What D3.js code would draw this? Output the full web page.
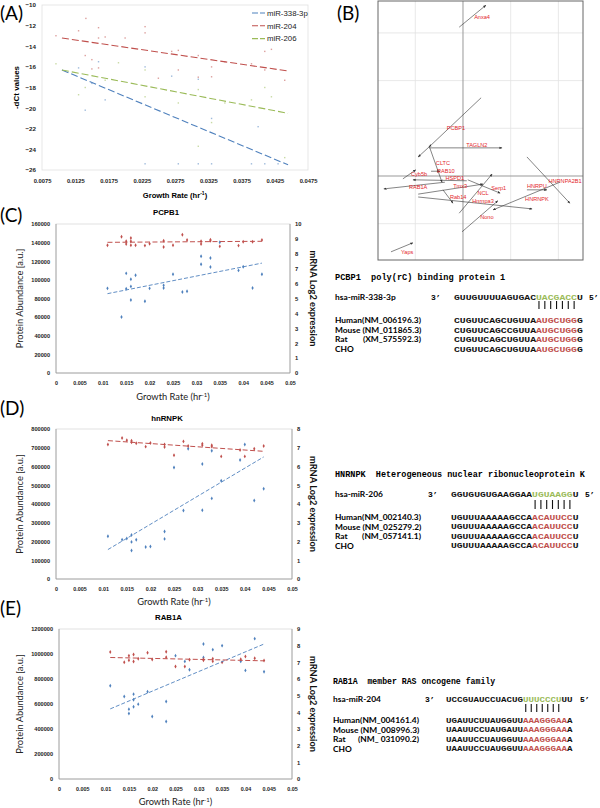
<!DOCTYPE html>
<html><head><meta charset="utf-8">
<script src="https://cdn.jsdelivr.net/npm/d3@7"></script>
<style>body{margin:0;background:#fff}svg{display:block}</style>
</head><body><script>
// ================= DATA =================
// Panel A
const growthTicksA = [0.0075,0.0125,0.0175,0.0225,0.0275,0.0325,0.0375,0.0425,0.0475];
const dctTicksA = [-10,-12,-14,-16,-18,-20,-22,-24,-26];
const mirNames = ["miR-338-3p","miR-204","miR-206"];
const trend338 = [[0.0105,-16.3],[0.0445,-25.5]];
const trend204 = [[0.0105,-13.2],[0.0445,-16.4]];
const trend206 = [[0.0105,-16.3],[0.0445,-20.5]];
const pts338 = [[0.023,-25.4],[0.028,-25.4],[0.031,-25.4],[0.033,-25.4],[0.039,-25.4],[0.041,-25.4],[0.043,-25.4],[0.014,-20.2],[0.023,-16.0],[0.027,-16.9],[0.031,-17.2],[0.033,-21.0],[0.040,-21.8],[0.016,-15.5],[0.017,-19.2],[0.013,-16.1],[0.015,-17.6]];
const pts204 = [[0.0096,-12.98],[0.013,-12.5],[0.0141,-11.3],[0.016,-12.2],[0.016,-13.2],[0.017,-13.1],[0.020,-13.2],[0.014,-14.9],[0.015,-15.3],[0.015,-16.2],[0.016,-16.1],[0.023,-12.1],[0.023,-12.7],[0.025,-17.1],[0.027,-14.5],[0.028,-14.4],[0.028,-16.3],[0.031,-14.9],[0.031,-17.0],[0.033,-16.0],[0.033,-16.96],[0.035,-15.5],[0.039,-15.7],[0.041,-16.3],[0.041,-14.5],[0.042,-14.3],[0.044,-17.3]];
const pts206 = [[0.0096,-15.7],[0.013,-18.7],[0.014,-18.0],[0.017,-17.3],[0.019,-15.6],[0.023,-16.3],[0.023,-18.9],[0.028,-19.5],[0.031,-18.2],[0.031,-23.7],[0.033,-21.4],[0.041,-18.0],[0.042,-18.9],[0.044,-24.8],[0.039,-19.2],[0.035,-19.5]];

// Panel B (PCA biplot, axis units)
const pcaNames = ["Anxa4","PCBP1","TAGLN2","","CLTC","RAB10","Cyb5b","HSPD1","RAB1A","Tmx3","Rab14","NCL","Serp1","Hnrnpa3","Nono","HNRPU","HNRNPA2B1","HNRNPK","Yaps"];
const pcaStart = [[-0.08,3.12],[0.38,1.64],[-0.71,0.59],[-0.71,0.61],[-0.71,0.63],[-0.67,0.10],[-1.26,-0.06],[0.08,-0.10],[-0.38,-0.13],[-0.94,-0.38],[-0.42,-0.29],[-0.08,-0.78],[0.10,-0.08],[-0.94,-0.44],[-0.02,-1.17],[1.34,-0.29],[1.34,0.40],[2.03,-0.13],[-1.51,-1.59]];
const pcaEnd = [[0.48,3.58],[-0.71,0.61],[0.82,0.59],[-0.94,0.40],[-0.44,-0.13],[-0.48,0.10],[-0.99,0.13],[-1.05,-0.08],[-1.66,-0.27],[0.42,-0.17],[-0.21,-0.57],[0.61,0.04],[0.78,-0.36],[1.45,-0.69],[0.73,-0.52],[1.76,-0.29],[2.24,-0.57],[0.63,-0.71],[-1.05,-1.40]];
const pcaLabelPos = [[0.40,3.33],[-0.15,1.0],[0.29,0.65],[0,0],[-0.42,0.27],[-0.36,0.10],[-0.92,0.04],[-0.17,-0.05],[-0.94,-0.23],[-0.06,-0.21],[-0.10,-0.44],[0.42,-0.36],[0.75,-0.25],[0.42,-0.52],[0.50,-0.86],[1.55,-0.22],[2.14,-0.10],[1.55,-0.48],[-1.17,-1.59]];
const pcaGridX = [-1,0,1,2];
const pcaGridY = [-1,0,1,2,3];

// Panels C-E shared
const growthTicks = [0,0.005,0.01,0.015,0.02,0.025,0.03,0.035,0.04,0.045,0.05];
// C: PCPB1
const proteinTicksC = [0,20000,40000,60000,80000,100000,120000,140000,160000];
const mrnaTicksC = [0,1,2,3,4,5,6,7,8,9,10];
const mrnaC = [[0.011,8.57],[0.014,9.15],[0.015,8.84],[0.015,8.66],[0.016,9.06],[0.016,8.84],[0.016,8.57],[0.017,8.57],[0.019,8.55],[0.020,8.68],[0.023,8.88],[0.023,8.46],[0.025,8.57],[0.027,9.28],[0.028,8.93],[0.031,8.84],[0.031,8.66],[0.033,8.95],[0.033,8.88],[0.035,8.5],[0.039,8.55],[0.040,8.81],[0.042,8.81],[0.044,8.93]];
const proteinC = [[0.011,90900],[0.014,60100],[0.015,107000],[0.015,90500],[0.016,100600],[0.016,93000],[0.016,78400],[0.017,104900],[0.019,77000],[0.020,90900],[0.023,94100],[0.023,91300],[0.025,106000],[0.027,87000],[0.028,87700],[0.031,125300],[0.031,116700],[0.033,123500],[0.033,113800],[0.035,140300],[0.039,110200],[0.040,114200],[0.042,91300],[0.044,106000]];
const mrnaTrendC = [[0.011,8.77],[0.044,8.84]];
const proteinTrendC = [[0.011,85200],[0.044,118000]];
// D: hnRNPK
const proteinTicksD = [0,100000,200000,300000,400000,500000,600000,700000,800000];
const mrnaTicksD = [0,1,2,3,4,5,6,7,8];
const mrnaD = [[0.011,7.17],[0.014,7.52],[0.015,7.4],[0.016,7.38],[0.016,7.29],[0.017,7.24],[0.019,7.06],[0.020,7.25],[0.023,7.17],[0.023,7.04],[0.025,6.6],[0.027,7.34],[0.028,7.09],[0.031,7.22],[0.031,7.13],[0.033,7.13],[0.033,7.06],[0.035,6.54],[0.039,6.88],[0.040,6.54],[0.042,6.95],[0.044,7.09]];
const proteinD = [[0.011,228000],[0.014,210000],[0.015,216000],[0.016,235000],[0.016,198000],[0.016,152000],[0.017,209000],[0.019,171000],[0.020,173000],[0.023,253000],[0.023,214000],[0.025,595000],[0.027,365000],[0.028,695000],[0.031,613000],[0.031,367000],[0.033,684000],[0.033,430000],[0.035,524000],[0.039,635000],[0.040,717000],[0.042,419000],[0.044,481000]];
const mrnaTrendD = [[0.011,7.38],[0.044,6.81]];
const proteinTrendD = [[0.011,157000],[0.044,651000]];
// E: RAB1A
const proteinTicksE = [0,200000,400000,600000,800000,1000000,1200000];
const mrnaTicksE = [0,1,2,3,4,5,6,7,8,9];
const mrnaE = [[0.011,7.62],[0.014,7.01],[0.015,7.39],[0.015,7.13],[0.016,7.47],[0.016,7.05],[0.017,7.21],[0.019,7.58],[0.020,7.17],[0.023,7.64],[0.023,7.31],[0.025,6.75],[0.027,6.75],[0.028,7.15],[0.031,7.19],[0.031,7.13],[0.033,7.21],[0.033,7.07],[0.035,7.01],[0.039,7.19],[0.040,7.35],[0.042,7.25],[0.044,7.11]];
const proteinE = [[0.011,746000],[0.014,660000],[0.015,559000],[0.015,524000],[0.016,679000],[0.016,634000],[0.016,578000],[0.017,599000],[0.019,698000],[0.020,500000],[0.023,620000],[0.023,460000],[0.025,987000],[0.027,941000],[0.028,874000],[0.031,1080000],[0.031,973000],[0.033,1035000],[0.035,1067000],[0.039,941000],[0.040,869000],[0.042,1123000],[0.044,858000]];
const mrnaTrendE = [[0.011,7.29],[0.044,7.09]];
const proteinTrendE = [[0.011,561000],[0.044,1080000]];

// Sequence alignments
const seqHeadC = ["PCBP1", "poly(rC) binding protein 1"];
const seqMirC = ["hsa-miR-338-3p", ["GUUGUUUUAGUGAC","UACGACC","U"]];
const seqRowNamesC = ["Human","Mouse","Rat","CHO"];
const seqRowAccC = ["(NM_006196.3)","(NM_011865.3)","(XM_575592.3)",""];
const seqRowsC = [["CUGUUCAGCUGUUA","AUGCUGG","G"],["CUGUUCAGCCGUUA","AUGCUGG","G"],["CUGUUCAGCUGUUA","AUGCUGG","G"],["CUGUUCAGCUGUUA","AUGCUGG","G"]];
const seqHeadD = ["HNRNPK", "Heterogeneous nuclear ribonucleoprotein K"];
const seqMirD = ["hsa-miR-206", ["GGUGUGUGAAGGAA","UGUAAGG","U"]];
const seqRowNamesD = ["Human","Mouse","Rat","CHO"];
const seqRowAccD = ["(NM_002140.3)","(NM_025279.2)","(NM_057141.1)",""];
const seqRowsD = [["UGUUUAAAAAGCCA","ACAUUCC","U"],["UGUUUAAAAAGCCA","ACAUUCC","U"],["UGUUUAAAAAGCCA","ACAUUCC","U"],["UGUUUAAAAAGCCA","ACAUUCC","U"]];
const seqHeadE = ["RAB1A", "member RAS oncogene family"];
const seqMirE = ["hsa-miR-204", ["UCCGUAUCCUACUG","UUUCCCU","UU"]];
const seqRowNamesE = ["Human","Mouse","Rat","CHO"];
const seqRowAccE = ["(NM_004161.4)","(NM_008996.3)","(NM_ 031090.2)",""];
const seqRowsE = [["UGAUUCUUAUGGUU","AAAGGGAA","A"],["UAAUUCCUAUGAUU","AAAGGGAA","A"],["UAAUUCCUAUGGUU","AAAGGGAA","A"],["UAAUUCCUAUGGUU","AAAGGGAA","A"]];

// ================= STYLE =================
const BLUE="#4f81bd", RED="#c0504d", GREEN="#9bbb59";
const SANS="Lato, 'Liberation Sans', sans-serif";
const TICKF="'Liberation Sans', Arial, sans-serif";
const MONO="'Liberation Mono', 'DejaVu Sans Mono', monospace";

const svg = d3.select("body").append("svg").attr("width",600).attr("height",808);

function panelLabel(t,x,y){
  svg.append("text").attr("x",x).attr("y",y).text(t)
    .attr("font-family",SANS).attr("font-size",19).attr("fill","#000");
}

// ================= PANEL A =================
(function(){
  const L=42,R=308,T=5,B=170;
  const x=d3.scaleLinear().domain([0.0075,0.0475]).range([L,R]);
  const y=d3.scaleLinear().domain([-26,-10]).range([B,T]);
  const g=svg.append("g");
  g.append("rect").attr("x",L).attr("y",T).attr("width",R-L).attr("height",B-T)
    .attr("fill","none").attr("stroke","#e0e0e0").attr("stroke-width",0.8);
  const ax=g.append("g").attr("transform",`translate(0,${B})`)
    .call(d3.axisBottom(x).tickValues(growthTicksA).tickSize(0).tickPadding(9).tickFormat(d=>d.toFixed(4)));
  ax.select(".domain").remove();
  ax.selectAll("text").attr("font-family",TICKF).attr("font-weight","bold").attr("font-size",5.8).attr("fill","#222");
  const ay=g.append("g").attr("transform",`translate(${L},0)`)
    .call(d3.axisLeft(y).tickValues(dctTicksA).tickSize(0).tickPadding(6));
  ay.select(".domain").remove();
  ay.selectAll("text").attr("font-family",TICKF).attr("font-weight","bold").attr("font-size",6.2).attr("fill","#222");
  g.append("text").attr("x",(L+R)/2).attr("y",198).attr("text-anchor","middle")
    .attr("font-family",TICKF).attr("font-weight","bold").attr("font-size",7.6)
    .html('Growth Rate (hr<tspan dy="-3" font-size="5">-1</tspan><tspan dy="3">)</tspan>');
  g.append("text").attr("transform",`translate(19,${(T+B)/2}) rotate(-90)`).attr("text-anchor","middle")
    .attr("font-family",TICKF).attr("font-weight","bold").attr("font-size",8).text("-dCt values");
  const sets=[[pts338,BLUE],[pts204,RED],[pts206,GREEN]];
  sets.forEach(([pts,c])=>{
    g.selectAll(null).data(pts).enter().append("rect")
      .attr("x",d=>x(d[0])-0.7).attr("y",d=>y(d[1])-0.7).attr("width",1.4).attr("height",1.4)
      .attr("fill",c).attr("opacity",0.55);
  });
  const line=d3.line().x(d=>x(d[0])).y(d=>y(d[1]));
  [[trend338,BLUE],[trend204,RED],[trend206,GREEN]].forEach(([t,c])=>{
    g.append("path").attr("d",line(t)).attr("fill","none").attr("stroke",c).attr("stroke-width",1.1).attr("stroke-dasharray","7,3");
  });
  const colors=[BLUE,RED,GREEN];
  mirNames.forEach((n,i)=>{
    const yy=13+i*12.8;
    g.append("line").attr("x1",252).attr("x2",265).attr("y1",yy).attr("y2",yy).attr("stroke",colors[i]).attr("stroke-width",1.1).attr("stroke-dasharray","6,2");
    g.append("text").attr("x",267).attr("y",yy+2.8).text(n).attr("font-family",TICKF).attr("font-size",7.8).attr("fill","#222");
  });
  panelLabel("(A)",0,20);
})();

// ================= PANEL B =================
(function(){
  const L=378,R=583,T=1,B=260;
  const x=d3.scaleLinear().domain([-1.782,2.516]).range([L,R]);
  const y=d3.scaleLinear().domain([-1.761,3.669]).range([B,T]);
  const g=svg.append("g");
  const defs=svg.append("defs");
  defs.append("marker").attr("id","ah").attr("viewBox","0 0 10 10").attr("refX",9).attr("refY",5)
    .attr("markerWidth",5).attr("markerHeight",5).attr("orient","auto")
    .append("path").attr("d","M0,1 L10,5 L0,9 Z").attr("fill","#333");
  g.append("rect").attr("x",L).attr("y",T).attr("width",R-L).attr("height",B-T).attr("fill","#fff");
  pcaGridX.forEach(v=>{ if(v!==0) g.append("line").attr("x1",x(v)).attr("x2",x(v)).attr("y1",T).attr("y2",B).attr("stroke","#e2e2e2").attr("stroke-width",0.8);});
  pcaGridY.forEach(v=>{ if(v!==0) g.append("line").attr("y1",y(v)).attr("y2",y(v)).attr("x1",L).attr("x2",R).attr("stroke","#e2e2e2").attr("stroke-width",0.8);});
  g.append("line").attr("x1",x(0)).attr("x2",x(0)).attr("y1",T).attr("y2",B).attr("stroke","#999").attr("stroke-width",1);
  g.append("line").attr("y1",y(0)).attr("y2",y(0)).attr("x1",L).attr("x2",R).attr("stroke","#999").attr("stroke-width",1);
  g.append("rect").attr("x",L).attr("y",T).attr("width",R-L).attr("height",B-T).attr("fill","none").attr("stroke","#666").attr("stroke-width",1);
  pcaStart.forEach((s,i)=>{
    const e=pcaEnd[i];
    g.append("line").attr("x1",x(s[0])).attr("y1",y(s[1])).attr("x2",x(e[0])).attr("y2",y(e[1]))
      .attr("stroke","#333").attr("stroke-width",0.6).attr("marker-end","url(#ah)");
    if(pcaNames[i]) g.append("text").attr("x",x(pcaLabelPos[i][0])).attr("y",y(pcaLabelPos[i][1])+2)
      .attr("text-anchor","middle").attr("font-family",TICKF).attr("font-size",5.6).attr("fill","#e3262b").text(pcaNames[i]);
  });
  panelLabel("(B)",337,20);
})();

// ================= PANELS C-E =================
function dualPanel(cfg, title, label, mrna, protein, mrnaTrend, proteinTrend, leftTicks, rightTicks){
  const {L,R,T,B,labelY,titleY,xTitleY}=cfg;
  const x=d3.scaleLinear().domain([0,0.05]).range([L,R]);
  const yL=d3.scaleLinear().domain([0,leftTicks[leftTicks.length-1]]).range([B,T]);
  const yR=d3.scaleLinear().domain([0,rightTicks[rightTicks.length-1]]).range([B,T]);
  const g=svg.append("g");
  g.append("rect").attr("x",L).attr("y",T).attr("width",R-L).attr("height",B-T).attr("fill","none").attr("stroke","#d9d9d9").attr("stroke-width",0.8);
  g.append("line").attr("x1",L).attr("x2",L).attr("y1",T).attr("y2",B).attr("stroke","#999").attr("stroke-width",0.8);
  g.append("line").attr("x1",R).attr("x2",R).attr("y1",T).attr("y2",B).attr("stroke","#999").attr("stroke-width",0.8);
  g.append("line").attr("x1",L).attr("x2",R).attr("y1",B).attr("y2",B).attr("stroke","#999").attr("stroke-width",0.8);
  const ax=g.append("g").attr("transform",`translate(0,${B})`)
    .call(d3.axisBottom(x).tickValues(growthTicks).tickSize(0).tickPadding(8).tickFormat(d=>String(+d.toFixed(3))));
  ax.select(".domain").remove();
  ax.selectAll("text").attr("font-family",TICKF).attr("font-weight","bold").attr("font-size",5.4).attr("fill","#222");
  const ayl=g.append("g").attr("transform",`translate(${L},0)`)
    .call(d3.axisLeft(yL).tickValues(leftTicks).tickSize(0).tickPadding(6).tickFormat(d=>String(d)));
  ayl.select(".domain").remove();
  ayl.selectAll("text").attr("font-family",TICKF).attr("font-weight","bold").attr("font-size",5.6).attr("fill","#222");
  const ayr=g.append("g").attr("transform",`translate(${R},0)`)
    .call(d3.axisRight(yR).tickValues(rightTicks).tickSize(0).tickPadding(5));
  ayr.select(".domain").remove();
  ayr.selectAll("text").attr("font-family",TICKF).attr("font-weight","bold").attr("font-size",5.8).attr("fill","#222");
  const sym=d3.symbol().type(d3.symbolDiamond).size(4.5);
  g.selectAll(null).data(protein).enter().append("path").attr("d",sym)
    .attr("transform",d=>`translate(${x(d[0])},${yL(d[1])})`).attr("fill",BLUE);
  g.selectAll(null).data(mrna).enter().append("path").attr("d",sym)
    .attr("transform",d=>`translate(${x(d[0])},${yR(d[1])})`).attr("fill",RED);
  g.append("path").attr("d",d3.line().x(d=>x(d[0])).y(d=>yL(d[1]))(proteinTrend))
    .attr("fill","none").attr("stroke",BLUE).attr("stroke-width",0.9).attr("stroke-dasharray","4,2");
  g.append("path").attr("d",d3.line().x(d=>x(d[0])).y(d=>yR(d[1]))(mrnaTrend))
    .attr("fill","none").attr("stroke",RED).attr("stroke-width",1).attr("stroke-dasharray","5,2.5");
  g.append("text").attr("x",(L+R)/2-7).attr("y",titleY+3).attr("text-anchor","middle")
    .attr("font-family",TICKF).attr("font-weight","bold").attr("font-size",7.8).text(title);
  g.append("text").attr("x",(L+R)/2).attr("y",xTitleY+3).attr("text-anchor","middle")
    .attr("font-family",SANS).attr("font-size",9.3).attr("fill","#222")
    .html('Growth Rate (hr<tspan dy="-3" font-size="6">-1</tspan><tspan dy="3">)</tspan>');
  g.append("text").attr("transform",`translate(23,${(T+B)/2}) rotate(-90)`).attr("text-anchor","middle")
    .attr("font-family",SANS).attr("font-size",9.3).attr("fill","#222").text("Protein Abundance [a.u.]");
  g.append("text").attr("transform",`translate(310,${(T+B)/2}) rotate(90)`).attr("text-anchor","middle")
    .attr("font-family",SANS).attr("font-weight","bold").attr("font-size",9.3).attr("fill","#111").text("mRNA Log2 expression");
  panelLabel(label,0,labelY);
}
dualPanel({L:56,R:290,T:224,B:373,labelY:222,titleY:212,xTitleY:397},"PCPB1","(C)",mrnaC,proteinC,mrnaTrendC,proteinTrendC,proteinTicksC,mrnaTicksC);
dualPanel({L:56,R:292,T:429,B:579,labelY:415,titleY:418,xTitleY:602},"hnRNPK","(D)",mrnaD,proteinD,mrnaTrendD,proteinTrendD,proteinTicksD,mrnaTicksD);
dualPanel({L:59,R:292,T:629,B:779,labelY:615,titleY:617,xTitleY:802},"RAB1A","(E)",mrnaE,proteinE,mrnaTrendE,proteinTrendE,proteinTicksE,mrnaTicksE);

// ================= SEQUENCE BLOCKS =================
function seqBlock(cfg, head, mir, names, accs, rows){
  const {labelX,headY,mirY,barY,rowsY,threeX,seqX,cw,fiveX,headFs}=cfg;
  const g=svg.append("g");
  const FS=7.9, sx=cw/(FS*0.6), LF=8.4;
  g.append("text").attr("x",labelX).attr("y",headY+3).attr("font-family",MONO).attr("font-weight","bold")
    .attr("font-size",headFs).attr("xml:space","preserve").text(head[0]+"  "+head[1]);
  g.append("text").attr("x",labelX).attr("y",mirY+3).attr("font-family",SANS).attr("font-weight","bold").attr("font-size",LF).text(mir[0]);
  g.append("text").attr("x",threeX).attr("y",mirY+3).attr("font-family",MONO).attr("font-weight","bold").attr("font-size",8).text("3’");
  g.append("text").attr("x",fiveX).attr("y",mirY+3).attr("font-family",MONO).attr("font-weight","bold").attr("font-size",8).text("5’");
  function seqText(parts,yy,hi){
    const t=g.append("text").attr("transform",`translate(${seqX},${yy+2.9}) scale(${sx},1)`)
      .attr("font-family",MONO).attr("font-weight","bold").attr("font-size",FS);
    parts.forEach((p,i)=>t.append("tspan").text(p).attr("fill",i===1?hi:"#111"));
  }
  seqText(mir[1],mirY,GREEN);
  const s0=mir[1][0].length, n=mir[1][1].length;
  d3.range(n).forEach(k=>{
    const xx=seqX+(s0+k+0.5)*cw;
    g.append("line").attr("x1",xx).attr("x2",xx).attr("y1",barY[0]).attr("y2",barY[1]).attr("stroke","#111").attr("stroke-width",1.1);
  });
  let endX=labelX;
  names.forEach((nm,i)=>{
    const t=g.append("text").attr("x",labelX).attr("y",rowsY[i]+3).attr("font-family",SANS).attr("font-weight","bold")
      .attr("font-size",LF).attr("xml:space","preserve");
    if(i===0){ t.text(nm+accs[i]); endX=labelX+t.node().getComputedTextLength(); }
    else if(i===1){ t.text(nm+" "+accs[i]); }
    else { t.text(nm);
      if(accs[i]) g.append("text").attr("x",endX).attr("y",rowsY[i]+3).attr("text-anchor","end").attr("font-family",SANS)
        .attr("font-weight","bold").attr("font-size",LF).text(accs[i]); }
    seqText(rows[i],rowsY[i],RED);
  });
}
seqBlock({labelX:335,headY:277,mirY:297,barY:[301,309],rowsY:[320,329.7,339.4,349.1],threeX:431,seqX:454,cw:5.86,fiveX:589,headFs:8.6},seqHeadC,seqMirC,seqRowNamesC,seqRowAccC,seqRowsC);
seqBlock({labelX:335,headY:474,mirY:494,barY:[500,509],rowsY:[517,526.5,536,545.5],threeX:428,seqX:451,cw:5.8,fiveX:585,headFs:8.5},seqHeadD,seqMirD,seqRowNamesD,seqRowAccD,seqRowsD);
seqBlock({labelX:333,headY:681,mirY:699,barY:[704,712],rowsY:[720,729.5,739,748.5],threeX:425,seqX:446,cw:5.5,fiveX:580,headFs:8.2},seqHeadE,seqMirE,seqRowNamesE,seqRowAccE,seqRowsE);
</script></body></html>
